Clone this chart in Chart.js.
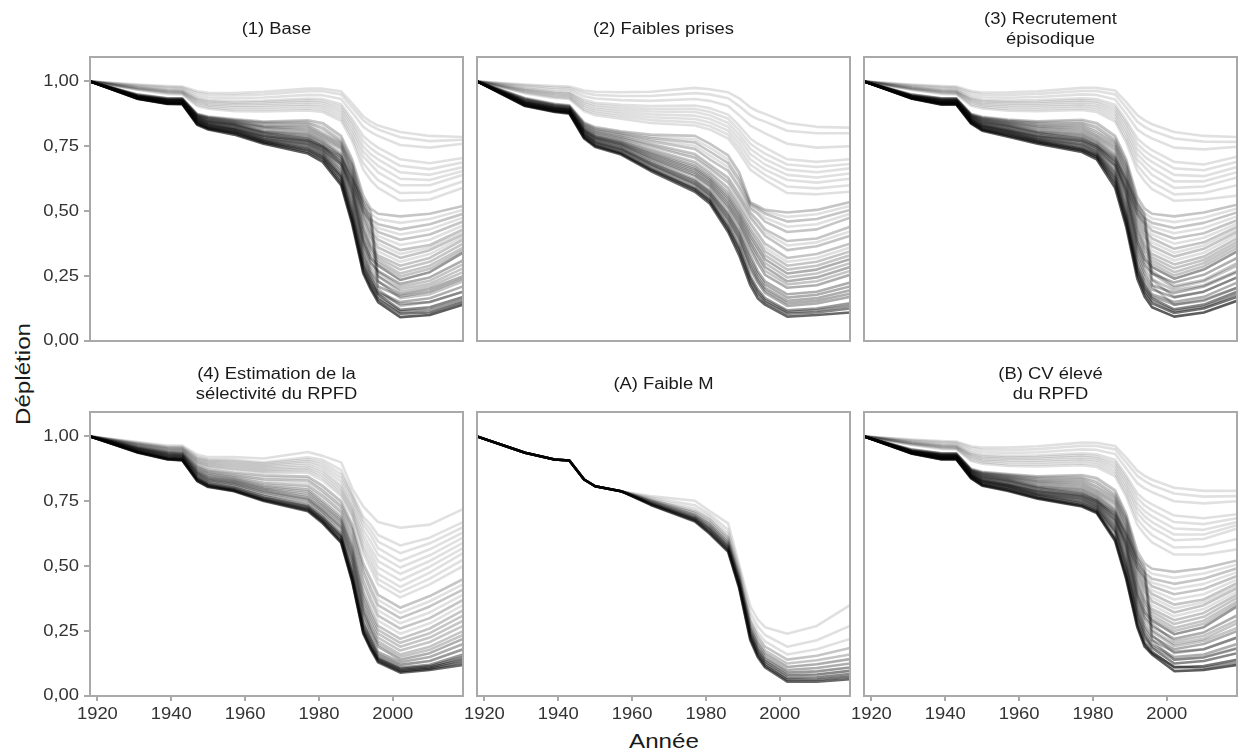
<!DOCTYPE html>
<html><head><meta charset="utf-8">
<script src="https://cdn.jsdelivr.net/npm/chart.js@4.4.0/dist/chart.umd.min.js"></script>
<style>
html,body{margin:0;padding:0;background:#fff;}
body{width:1239px;height:755px;position:relative;overflow:hidden;font-family:"Liberation Sans",Arial,sans-serif;}
canvas{position:absolute;}
.axt{position:absolute;color:#1a1a1a;font-size:21px;line-height:21px;white-space:nowrap;}
</style></head><body>
<div class="axt" id="xt" style="left:663.5px;top:730px;transform:translateX(-50%) scaleX(1.15);">Année</div>
<div class="axt" id="yt" style="left:22px;top:374px;transform:translate(-50%,-50%) rotate(-90deg) scaleX(1.15);">Déplétion</div>
<script>
// ---------------- DATA ----------------
const years = [1918, 1931, 1939, 1943, 1947, 1950, 1957, 1965, 1977, 1981, 1986, 1989, 1992, 1994, 1996, 2002, 2010, 2019];
const xTickValues = [1920, 1940, 1960, 1980, 2000];
const yTickValues = [0, 0.25, 0.5, 0.75, 1];
const panelTitles = [["(1) Base"], ["(2) Faibles prises"], ["(3) Recrutement", "épisodique"],
  ["(4) Estimation de la", "sélectivité du RPFD"], ["(A) Faible M"], ["(B) CV élevé", "du RPFD"]];

// (1) Base — representative runs, depletion at each year in `years`
const runsBase = [
 [1,.988,.982,.980,.962,.956,.955,.960,.972,.972,.962,.915,.865,.845,.830,.805,.790,.786],
 [1,.985,.978,.976,.955,.948,.946,.950,.962,.962,.950,.900,.850,.830,.815,.785,.770,.775],
 [1,.982,.973,.971,.946,.938,.935,.938,.948,.947,.932,.880,.825,.805,.790,.755,.745,.760],
 [1,.978,.968,.966,.937,.928,.924,.926,.934,.932,.912,.855,.790,.765,.745,.700,.685,.705],
 [1,.976,.965,.963,.932,.923,.918,.920,.927,.924,.902,.842,.770,.742,.722,.675,.662,.688],
 [1,.975,.963,.961,.928,.918,.913,.914,.920,.917,.892,.830,.750,.720,.700,.650,.640,.670],
 [1,.973,.960,.958,.923,.912,.906,.907,.912,.908,.881,.815,.730,.700,.675,.625,.620,.655],
 [1,.971,.958,.956,.918,.907,.900,.900,.905,.900,.870,.800,.710,.680,.650,.600,.600,.640],
 [1,.969,.955,.953,.911,.901,.892,.892,.896,.891,.859,.785,.685,.650,.620,.570,.572,.615],
 [1,.967,.952,.950,.905,.895,.885,.884,.888,.882,.848,.770,.660,.620,.590,.540,.545,.590],
 [1,.932,.913,.912,.833,.815,.795,.760,.722,.690,.600,.450,.260,.200,.150,.092,.100,.140],
 [1,.933,.914,.913,.836,.818,.800,.765,.730,.700,.610,.460,.270,.210,.160,.105,.110,.150],
 [1,.938,.920,.920,.848,.832,.815,.785,.760,.735,.680,.600,.500,.460,.200,.135,.150,.190],
 [1,.934,.916,.915,.840,.822,.805,.770,.740,.710,.630,.480,.290,.230,.180,.120,.130,.170],
 [1,.936,.918,.917,.844,.826,.810,.775,.750,.720,.640,.500,.310,.250,.190,.150,.165,.210],
 [1,.939,.922,.922,.852,.836,.820,.790,.770,.745,.700,.620,.520,.480,.230,.165,.180,.230],
 [1,.937,.920,.919,.848,.830,.815,.780,.760,.730,.660,.530,.340,.270,.230,.180,.200,.250],
 [1,.940,.924,.924,.856,.840,.825,.795,.775,.750,.710,.630,.540,.500,.250,.200,.220,.280],
 [1,.938,.922,.921,.852,.835,.820,.790,.770,.740,.680,.560,.370,.300,.270,.220,.245,.310],
 [1,.941,.925,.925,.858,.843,.830,.800,.780,.750,.690,.580,.390,.320,.290,.235,.265,.340],
 [1,.942,.927,.927,.861,.846,.833,.805,.790,.760,.710,.600,.420,.350,.310,.260,.290,.360],
 [1,.943,.928,.928,.864,.850,.837,.810,.800,.770,.720,.620,.440,.370,.330,.290,.320,.390],
 [1,.944,.929,.929,.866,.853,.840,.820,.810,.780,.740,.640,.470,.400,.360,.320,.350,.410],
 [1,.945,.930,.930,.868,.856,.843,.825,.820,.790,.750,.650,.490,.420,.390,.350,.370,.430],
 [1,.946,.932,.932,.870,.859,.847,.830,.830,.800,.760,.670,.510,.450,.420,.390,.410,.460],
 [1,.948,.934,.934,.872,.862,.850,.840,.840,.820,.770,.680,.530,.470,.450,.430,.450,.490],
 [1,.950,.935,.935,.875,.865,.855,.845,.850,.840,.790,.700,.560,.510,.490,.480,.490,.520],
 [1,.933,.915,.914,.838,.820,.802,.767,.735,.705,.620,.470,.280,.220,.170,.113,.120,.160],
 [1,.935,.917,.916,.842,.824,.808,.772,.745,.715,.635,.490,.300,.240,.185,.142,.150,.190],
 [1,.936,.919,.918,.846,.828,.812,.778,.755,.725,.650,.515,.325,.260,.210,.172,.190,.240],
 [1,.938,.921,.920,.850,.833,.817,.785,.765,.735,.670,.545,.355,.285,.250,.190,.210,.265],
 [1,.939,.923,.922,.854,.838,.822,.792,.772,.745,.685,.570,.380,.310,.265,.210,.232,.295],
 [1,.941,.926,.926,.859,.845,.831,.802,.785,.755,.700,.590,.405,.335,.300,.248,.278,.350],
 [1,.942,.927,.927,.862,.848,.835,.807,.795,.765,.715,.610,.430,.360,.320,.275,.305,.375],
 [1,.943,.928,.928,.865,.851,.838,.815,.805,.775,.730,.630,.455,.385,.345,.305,.335,.400],
 [1,.944,.929,.929,.867,.854,.841,.822,.815,.785,.745,.645,.480,.410,.375,.335,.360,.420],
 [1,.945,.931,.931,.869,.857,.845,.827,.825,.795,.755,.660,.500,.435,.405,.370,.390,.445],
 [1,.947,.933,.933,.871,.860,.848,.835,.835,.810,.765,.675,.520,.460,.435,.410,.430,.475],
 [1,.949,.935,.935,.873,.863,.852,.842,.845,.830,.780,.690,.545,.490,.470,.455,.470,.505]
];
const weightsBase = [1,1,1,1,1,1,1,1,1,1, 8,6,2,5,3,2,3,2,3,4,2,2,2,2,2,2,2, 4,3,3,2,2,2,2,1,1,1,1,1];

// (2) Faibles prises
const runsLowCatch = [
 [1,.988,.982,.980,.965,.960,.958,.960,.975,.970,.958,.935,.900,.885,.875,.840,.825,.822],
 [1,.984,.976,.974,.955,.948,.944,.944,.955,.950,.935,.905,.870,.855,.845,.810,.800,.800],
 [1,.979,.969,.967,.943,.934,.928,.925,.932,.925,.905,.870,.830,.815,.800,.760,.745,.750],
 [1,.973,.961,.958,.930,.918,.910,.905,.907,.897,.872,.830,.780,.760,.745,.700,.690,.700],
 [1,.970,.957,.954,.922,.910,.901,.894,.894,.883,.856,.812,.760,.740,.722,.680,.670,.682],
 [1,.967,.953,.950,.915,.902,.892,.884,.882,.870,.840,.795,.740,.720,.700,.660,.650,.665],
 [1,.964,.949,.945,.907,.894,.883,.873,.868,.856,.825,.778,.720,.700,.680,.640,.630,.645],
 [1,.961,.945,.941,.900,.886,.874,.862,.855,.842,.810,.760,.700,.680,.660,.620,.610,.625],
 [1,.957,.940,.936,.892,.878,.865,.851,.842,.828,.795,.742,.680,.660,.640,.595,.588,.600],
 [1,.954,.936,.932,.885,.870,.856,.840,.830,.815,.780,.725,.660,.640,.620,.570,.565,.575],
 [1,.905,.882,.876,.780,.747,.718,.655,.575,.530,.420,.330,.215,.165,.140,.094,.100,.110],
 [1,.906,.884,.878,.783,.751,.722,.660,.582,.538,.430,.345,.230,.180,.150,.105,.110,.125],
 [1,.908,.886,.880,.787,.756,.727,.667,.590,.547,.445,.365,.250,.200,.165,.118,.125,.145],
 [1,.910,.888,.882,.791,.761,.733,.675,.600,.557,.460,.385,.275,.225,.185,.135,.145,.170],
 [1,.912,.890,.884,.795,.766,.739,.683,.610,.568,.478,.405,.300,.245,.205,.155,.165,.195],
 [1,.914,.892,.886,.799,.771,.745,.692,.622,.580,.495,.425,.330,.270,.230,.180,.190,.225],
 [1,.916,.894,.888,.803,.776,.751,.700,.635,.594,.512,.445,.355,.300,.255,.205,.215,.255],
 [1,.918,.896,.890,.807,.781,.757,.710,.648,.608,.530,.465,.380,.330,.285,.230,.245,.285],
 [1,.920,.898,.892,.811,.786,.763,.720,.662,.622,.550,.485,.405,.360,.315,.260,.275,.315],
 [1,.922,.900,.894,.815,.791,.769,.730,.676,.636,.570,.505,.430,.390,.345,.290,.305,.345],
 [1,.924,.902,.896,.819,.796,.775,.740,.690,.650,.590,.525,.455,.415,.375,.320,.335,.375],
 [1,.926,.904,.898,.823,.801,.781,.750,.705,.665,.610,.545,.475,.440,.405,.350,.365,.405],
 [1,.928,.906,.900,.827,.806,.787,.760,.720,.680,.630,.565,.495,.465,.430,.385,.395,.440],
 [1,.930,.908,.902,.831,.811,.793,.770,.740,.700,.655,.590,.510,.490,.460,.420,.430,.475],
 [1,.933,.911,.905,.836,.817,.800,.782,.765,.730,.685,.620,.525,.510,.490,.460,.470,.505],
 [1,.936,.914,.908,.842,.824,.808,.795,.790,.760,.715,.650,.535,.520,.505,.495,.505,.535],
 [1,.907,.885,.879,.785,.753,.724,.663,.586,.542,.437,.355,.240,.190,.157,.112,.118,.135],
 [1,.911,.889,.883,.793,.763,.736,.679,.605,.562,.469,.395,.288,.235,.195,.145,.155,.182],
 [1,.913,.891,.885,.797,.768,.742,.687,.616,.574,.486,.415,.315,.258,.218,.167,.178,.210],
 [1,.917,.895,.889,.805,.778,.754,.705,.641,.601,.521,.455,.368,.315,.270,.218,.230,.270],
 [1,.919,.897,.891,.809,.783,.760,.715,.655,.615,.540,.475,.392,.345,.300,.245,.260,.300],
 [1,.921,.899,.893,.813,.788,.766,.725,.669,.629,.560,.495,.418,.375,.330,.275,.290,.330],
 [1,.923,.901,.895,.817,.793,.772,.735,.683,.643,.580,.515,.442,.402,.360,.305,.320,.360],
 [1,.927,.905,.899,.825,.803,.784,.755,.712,.672,.620,.555,.485,.452,.418,.368,.380,.422],
 [1,.931,.909,.903,.833,.814,.796,.776,.752,.715,.670,.605,.518,.500,.475,.440,.450,.490],
 [1,.934,.912,.906,.839,.820,.804,.788,.777,.745,.700,.635,.530,.515,.498,.478,.488,.520]
];
const weightsLowCatch = [1,1,1,1,1,1,1,1,1,1, 7,5,4,3,3,3,3,3,3,2,2,2,2,2,2,2, 4,3,3,2,2,2,1,1,1,1];

// (3) Recrutement épisodique
const runsEpisodic = [
 [1,.988,.982,.980,.963,.957,.958,.962,.975,.975,.965,.920,.870,.850,.835,.805,.790,.786],
 [1,.985,.978,.976,.956,.949,.948,.952,.963,.963,.950,.900,.845,.825,.810,.780,.768,.767],
 [1,.982,.973,.971,.947,.939,.937,.940,.950,.948,.930,.875,.815,.795,.780,.745,.738,.748],
 [1,.978,.968,.966,.938,.929,.926,.928,.935,.932,.910,.850,.780,.755,.735,.690,.680,.710],
 [1,.976,.965,.963,.933,.924,.920,.921,.928,.924,.900,.838,.760,.732,.712,.665,.658,.690],
 [1,.975,.963,.961,.929,.919,.915,.915,.921,.917,.890,.825,.740,.710,.690,.640,.635,.670],
 [1,.973,.960,.958,.924,.913,.908,.908,.913,.908,.879,.810,.720,.690,.665,.615,.615,.650],
 [1,.971,.958,.956,.919,.908,.902,.901,.906,.900,.868,.795,.700,.670,.640,.590,.595,.630],
 [1,.969,.955,.953,.912,.902,.894,.893,.898,.891,.856,.780,.678,.642,.612,.565,.570,.600],
 [1,.967,.952,.950,.906,.896,.887,.885,.890,.882,.845,.765,.655,.615,.585,.540,.545,.560],
 [1,.933,.910,.910,.837,.810,.787,.760,.728,.700,.590,.440,.240,.170,.130,.094,.110,.155],
 [1,.934,.912,.912,.840,.814,.792,.765,.734,.708,.605,.455,.255,.185,.145,.108,.125,.170],
 [1,.938,.918,.918,.850,.828,.808,.783,.758,.735,.675,.590,.490,.450,.210,.140,.160,.205],
 [1,.935,.914,.914,.843,.818,.797,.770,.740,.715,.625,.475,.275,.205,.165,.122,.140,.190],
 [1,.936,.916,.916,.846,.822,.802,.775,.748,.722,.640,.495,.295,.225,.180,.150,.170,.225],
 [1,.939,.920,.920,.853,.832,.813,.788,.768,.745,.695,.615,.510,.470,.235,.170,.190,.245],
 [1,.937,.918,.918,.849,.826,.807,.780,.758,.730,.655,.525,.330,.260,.215,.185,.210,.265],
 [1,.940,.922,.922,.856,.836,.818,.793,.775,.752,.705,.625,.530,.490,.260,.205,.230,.290],
 [1,.938,.920,.920,.852,.831,.813,.790,.770,.742,.675,.555,.360,.290,.260,.225,.255,.320],
 [1,.941,.923,.923,.858,.840,.823,.800,.780,.752,.688,.575,.385,.315,.285,.240,.275,.345],
 [1,.942,.925,.925,.861,.844,.828,.805,.790,.762,.705,.595,.415,.345,.310,.265,.300,.370],
 [1,.943,.927,.927,.864,.848,.832,.812,.800,.772,.718,.615,.440,.370,.335,.295,.325,.395],
 [1,.944,.928,.928,.866,.851,.836,.820,.810,.782,.735,.635,.465,.400,.365,.325,.355,.420],
 [1,.945,.930,.930,.868,.854,.840,.826,.820,.792,.748,.650,.490,.425,.395,.355,.380,.440],
 [1,.946,.932,.932,.870,.857,.844,.832,.830,.805,.760,.668,.510,.455,.425,.395,.415,.465],
 [1,.948,.934,.934,.872,.860,.848,.840,.840,.822,.772,.682,.530,.475,.455,.435,.455,.495],
 [1,.950,.935,.935,.875,.864,.853,.846,.852,.840,.790,.700,.555,.510,.490,.480,.495,.525],
 [1,.934,.913,.913,.840,.814,.793,.767,.737,.711,.613,.463,.265,.195,.155,.115,.132,.180],
 [1,.936,.915,.915,.845,.820,.800,.772,.744,.719,.632,.485,.285,.215,.172,.140,.155,.205],
 [1,.937,.917,.917,.848,.824,.805,.778,.753,.726,.648,.510,.312,.242,.198,.168,.190,.245],
 [1,.938,.919,.919,.851,.829,.810,.785,.764,.736,.665,.540,.345,.275,.238,.195,.215,.270],
 [1,.939,.921,.921,.854,.834,.816,.792,.772,.746,.680,.565,.372,.302,.270,.212,.235,.300],
 [1,.941,.924,.924,.859,.842,.826,.802,.785,.757,.696,.585,.400,.330,.298,.252,.288,.358],
 [1,.942,.926,.926,.862,.846,.830,.808,.795,.767,.712,.605,.428,.358,.322,.280,.312,.382],
 [1,.943,.927,.927,.865,.849,.834,.816,.805,.777,.726,.625,.452,.385,.350,.310,.340,.408],
 [1,.944,.929,.929,.867,.852,.838,.823,.815,.787,.742,.642,.478,.412,.380,.340,.368,.430],
 [1,.945,.931,.931,.869,.855,.842,.829,.825,.798,.754,.659,.500,.440,.410,.375,.398,.452],
 [1,.947,.933,.933,.871,.858,.846,.836,.835,.813,.766,.675,.520,.465,.440,.415,.435,.480],
 [1,.949,.935,.935,.873,.862,.850,.843,.846,.831,.781,.691,.542,.492,.472,.458,.475,.510]
];
const weightsEpisodic = [1,1,1,1,1,1,1,1,1,1, 8,6,2,5,3,2,3,2,3,4,2,2,2,2,2,2,2, 4,3,3,2,2,2,2,1,1,1,1,1];

// (4) Estimation de la sélectivité du RPFD
const runsSelectivity = [
 [1,.937,.911,.907,.828,.805,.789,.751,.712,.665,.590,.440,.240,.180,.130,.090,.100,.120],
 [1,.938,.912,.908,.830,.807,.791,.754,.716,.670,.595,.445,.245,.185,.135,.095,.105,.130],
 [1,.939,.913,.910,.833,.810,.793,.757,.720,.675,.600,.450,.250,.190,.140,.100,.110,.140],
 [1,.940,.915,.912,.836,.813,.796,.761,.725,.680,.610,.460,.260,.200,.145,.105,.115,.150],
 [1,.941,.917,.914,.839,.816,.800,.765,.730,.685,.615,.470,.270,.210,.150,.110,.120,.160],
 [1,.943,.919,.916,.843,.820,.804,.770,.735,.690,.620,.480,.280,.220,.160,.120,.135,.180],
 [1,.945,.921,.918,.847,.825,.810,.777,.745,.700,.630,.500,.300,.230,.170,.130,.150,.200],
 [1,.947,.923,.920,.852,.830,.816,.785,.755,.710,.645,.520,.320,.250,.190,.140,.165,.220],
 [1,.949,.926,.923,.857,.836,.822,.793,.765,.720,.660,.540,.340,.270,.210,.160,.190,.250],
 [1,.951,.929,.926,.862,.842,.828,.800,.780,.735,.675,.560,.370,.300,.240,.190,.225,.290],
 [1,.953,.932,.929,.868,.850,.835,.810,.795,.750,.690,.580,.400,.330,.270,.220,.260,.330],
 [1,.955,.935,.932,.874,.857,.842,.820,.810,.770,.710,.610,.440,.370,.310,.260,.300,.370],
 [1,.957,.938,.935,.880,.864,.850,.835,.830,.790,.730,.640,.480,.410,.350,.300,.345,.410],
 [1,.960,.941,.939,.887,.872,.860,.850,.845,.810,.750,.660,.510,.450,.390,.340,.385,.450],
 [1,.963,.944,.943,.894,.880,.870,.860,.860,.830,.770,.690,.550,.490,.430,.380,.430,.500],
 [1,.966,.948,.947,.900,.888,.880,.870,.875,.850,.790,.710,.580,.530,.470,.420,.475,.550],
 [1,.969,.952,.951,.907,.896,.890,.880,.890,.870,.810,.730,.620,.570,.520,.470,.520,.590],
 [1,.972,.956,.955,.914,.904,.900,.890,.905,.890,.840,.760,.660,.620,.570,.520,.565,.630],
 [1,.975,.960,.960,.922,.912,.910,.900,.920,.910,.870,.780,.690,.660,.620,.580,.610,.670],
 [1,.978,.965,.965,.930,.920,.920,.915,.940,.925,.900,.800,.730,.700,.670,.648,.660,.720],
 [1,.948,.925,.922,.855,.833,.819,.789,.760,.715,.652,.530,.330,.260,.200,.150,.178,.235],
 [1,.950,.928,.925,.860,.839,.825,.797,.772,.728,.668,.550,.355,.285,.225,.175,.208,.270],
 [1,.952,.931,.928,.865,.846,.832,.805,.788,.742,.682,.570,.385,.315,.255,.205,.242,.310],
 [1,.954,.934,.931,.871,.854,.839,.815,.802,.760,.700,.595,.420,.350,.290,.240,.280,.350],
 [1,.956,.937,.934,.877,.861,.846,.828,.820,.780,.720,.625,.460,.390,.330,.280,.322,.390],
 [1,.959,.940,.937,.884,.868,.855,.842,.838,.800,.740,.650,.495,.430,.370,.320,.365,.430],
 [1,.964,.946,.945,.897,.884,.875,.865,.868,.840,.780,.700,.565,.510,.450,.400,.452,.525],
 [1,.967,.950,.949,.903,.892,.885,.875,.882,.860,.800,.720,.600,.550,.495,.445,.498,.570],
 [1,.970,.954,.953,.910,.900,.895,.885,.898,.880,.825,.745,.640,.595,.545,.495,.542,.610],
 [1,.973,.958,.958,.918,.908,.905,.895,.912,.900,.855,.770,.675,.640,.595,.550,.588,.650]
];
const weightsSelectivity = [7,6,6,5,4,4,3,3,2,2,2,2,2,2,1,1,1,1,1,1, 2,2,2,1,1,1, 1,1,1,1];

// (A) Faible M
const runsLowM = [
 [1,.937,.911,.907,.834,.808,.789,.736,.672,.625,.555,.415,.215,.150,.110,.055,.055,.065],
 [1,.937,.911,.907,.834,.808,.789,.738,.676,.630,.560,.420,.222,.157,.117,.062,.063,.075],
 [1,.937,.911,.907,.834,.808,.789,.740,.680,.636,.566,.425,.230,.165,.125,.070,.072,.085],
 [1,.937,.911,.907,.834,.808,.789,.742,.684,.642,.572,.432,.238,.173,.133,.080,.083,.097],
 [1,.937,.911,.907,.834,.808,.789,.744,.688,.648,.578,.438,.246,.182,.142,.090,.095,.110],
 [1,.937,.911,.907,.834,.808,.789,.747,.693,.655,.585,.445,.255,.192,.152,.100,.108,.125],
 [1,.937,.911,.907,.834,.808,.789,.750,.698,.662,.593,.452,.265,.203,.163,.112,.122,.142],
 [1,.937,.911,.907,.834,.808,.789,.753,.705,.670,.602,.460,.275,.215,.175,.125,.138,.160],
 [1,.937,.911,.907,.834,.808,.789,.756,.712,.680,.612,.470,.288,.230,.190,.140,.155,.185],
 [1,.937,.911,.907,.834,.808,.789,.760,.722,.690,.625,.480,.300,.245,.210,.160,.180,.220],
 [1,.937,.911,.907,.834,.808,.789,.765,.735,.700,.640,.492,.320,.268,.235,.190,.215,.270],
 [1,.937,.911,.907,.834,.808,.789,.770,.752,.712,.665,.505,.345,.295,.265,.240,.270,.350]
];
const weightsLowM = [7,6,5,5,4,3,3,2,2,1,1,1];

// (B) CV élevé du RPFD
const runsHighCV = [
 [1,.988,.982,.980,.962,.957,.957,.962,.976,.975,.963,.918,.868,.848,.833,.802,.790,.790],
 [1,.985,.978,.976,.955,.949,.947,.951,.964,.963,.950,.900,.848,.828,.812,.780,.768,.770],
 [1,.982,.973,.971,.946,.939,.936,.939,.950,.948,.932,.877,.820,.800,.785,.750,.742,.750],
 [1,.978,.968,.966,.937,.929,.925,.927,.935,.931,.910,.850,.780,.755,.738,.695,.685,.700],
 [1,.976,.965,.963,.932,.923,.919,.920,.928,.923,.900,.838,.762,.734,.715,.670,.662,.685],
 [1,.975,.963,.961,.928,.918,.914,.914,.921,.916,.890,.825,.742,.712,.692,.645,.640,.670],
 [1,.973,.960,.958,.923,.912,.907,.907,.913,.908,.879,.811,.724,.692,.670,.622,.622,.658],
 [1,.971,.958,.956,.918,.907,.901,.900,.906,.900,.868,.797,.705,.672,.648,.600,.605,.645],
 [1,.969,.955,.953,.911,.901,.893,.892,.897,.891,.857,.782,.682,.647,.620,.572,.575,.605],
 [1,.967,.952,.950,.905,.895,.886,.884,.889,.882,.846,.768,.660,.622,.592,.545,.545,.565],
 [1,.933,.911,.911,.838,.810,.790,.760,.730,.705,.597,.450,.265,.190,.160,.096,.100,.120],
 [1,.934,.913,.913,.841,.814,.795,.765,.736,.712,.610,.465,.280,.205,.170,.110,.115,.140],
 [1,.938,.919,.919,.850,.828,.810,.783,.760,.738,.675,.595,.495,.455,.215,.140,.150,.185],
 [1,.935,.915,.915,.844,.818,.800,.770,.742,.718,.630,.485,.300,.225,.185,.125,.135,.165],
 [1,.936,.917,.917,.847,.822,.805,.775,.750,.726,.645,.505,.320,.245,.200,.150,.160,.200],
 [1,.939,.921,.921,.853,.832,.815,.788,.768,.746,.697,.618,.515,.475,.235,.165,.180,.225],
 [1,.937,.919,.919,.849,.826,.810,.780,.760,.733,.660,.530,.345,.270,.230,.180,.200,.250],
 [1,.940,.923,.923,.856,.836,.820,.793,.775,.752,.706,.628,.535,.495,.255,.200,.220,.280],
 [1,.938,.921,.921,.852,.831,.815,.790,.770,.743,.678,.560,.370,.300,.268,.220,.245,.310],
 [1,.941,.924,.924,.858,.840,.825,.800,.780,.753,.690,.580,.392,.322,.290,.238,.265,.345],
 [1,.942,.926,.926,.861,.844,.830,.805,.790,.763,.708,.600,.420,.350,.312,.262,.290,.365],
 [1,.943,.927,.927,.864,.848,.834,.812,.800,.773,.720,.620,.445,.372,.335,.292,.320,.390],
 [1,.944,.928,.928,.866,.851,.838,.820,.810,.783,.738,.640,.470,.402,.365,.322,.350,.415],
 [1,.945,.930,.930,.868,.854,.842,.826,.820,.793,.750,.655,.492,.425,.393,.352,.372,.435],
 [1,.946,.932,.932,.870,.857,.846,.832,.830,.806,.762,.672,.512,.452,.423,.392,.412,.462],
 [1,.948,.934,.934,.872,.860,.850,.840,.840,.822,.774,.685,.532,.475,.452,.432,.452,.492],
 [1,.950,.935,.935,.875,.864,.855,.846,.851,.840,.792,.702,.558,.510,.490,.478,.492,.522],
 [1,.934,.912,.912,.840,.812,.793,.763,.733,.709,.604,.458,.272,.198,.165,.113,.108,.130],
 [1,.936,.916,.916,.846,.820,.803,.773,.746,.722,.638,.495,.310,.235,.192,.140,.148,.182],
 [1,.937,.918,.918,.849,.825,.808,.778,.755,.730,.652,.518,.332,.258,.215,.170,.180,.225],
 [1,.938,.920,.920,.851,.829,.813,.785,.765,.739,.668,.545,.358,.285,.248,.192,.212,.262],
 [1,.939,.922,.922,.854,.834,.818,.792,.772,.748,.683,.570,.382,.310,.278,.210,.232,.292],
 [1,.941,.925,.925,.859,.842,.828,.802,.785,.758,.699,.590,.406,.336,.300,.250,.278,.355],
 [1,.942,.926,.926,.862,.846,.832,.808,.795,.768,.714,.610,.432,.361,.324,.277,.305,.378],
 [1,.943,.927,.927,.865,.849,.836,.816,.805,.778,.729,.630,.457,.387,.350,.307,.335,.402],
 [1,.944,.929,.929,.867,.852,.840,.823,.815,.788,.744,.647,.481,.413,.379,.337,.361,.425],
 [1,.945,.931,.931,.869,.855,.844,.829,.825,.800,.756,.663,.502,.438,.408,.372,.392,.448],
 [1,.947,.933,.933,.871,.858,.848,.836,.835,.814,.768,.678,.522,.463,.437,.412,.432,.477],
 [1,.949,.935,.935,.873,.862,.852,.843,.845,.831,.783,.693,.545,.492,.471,.455,.472,.507]
];
const weightsHighCV = [1,1,1,1,1,1,1,1,1,1, 8,6,2,5,3,2,3,2,3,4,2,2,2,2,2,2,2, 4,3,3,2,2,2,2,1,1,1,1,1];

// ---------------- LAYOUT / STYLE ----------------
const TEXT_STRETCH = 1.15;
const FONT = '"Liberation Sans", Arial, sans-serif';
const UNIT_ALPHA = 0.12;
const PANEL_W = 373, PANEL_H = 284;
const PAD_L = 90, PAD_T = 57, PAD_B = 58, PAD_R = 2;
const panelOrigins = [[90,57],[477,57],[864,57],[90,412],[477,412],[864,412]];
const panelRuns = [runsBase, runsLowCatch, runsEpisodic, runsSelectivity, runsLowM, runsHighCV];
const panelWeights = [weightsBase, weightsLowCatch, weightsEpisodic, weightsSelectivity, weightsLowM, weightsHighCV];

// horizontally widen drawn text (reference typeface is wider than Liberation Sans)
const _fillText = CanvasRenderingContext2D.prototype.fillText;
CanvasRenderingContext2D.prototype.fillText = function(t, x, y, mw) {
  this.save();
  this.translate(x, y);
  this.scale(TEXT_STRETCH, 1);
  if (mw === undefined || mw === null) _fillText.call(this, t, 0, 0);
  else _fillText.call(this, t, 0, 0, mw / TEXT_STRETCH);
  this.restore();
};

Chart.defaults.font.family = FONT;

const framePlugin = {
  id: 'frame',
  afterDatasetsDraw(chart) {
    const {ctx, chartArea: a} = chart;
    ctx.save();
    ctx.strokeStyle = '#a9a9a9';
    ctx.lineWidth = 2;
    ctx.strokeRect(a.left, a.top, a.right - a.left, a.bottom - a.top);
    ctx.restore();
  }
};
const titlePlugin = {
  id: 'panelTitle',
  afterDraw(chart, args, opts) {
    const {ctx, chartArea: a} = chart;
    const lines = opts.lines || [];
    ctx.save();
    ctx.font = '16px ' + FONT;
    ctx.fillStyle = '#1a1a1a';
    ctx.textAlign = 'center';
    ctx.textBaseline = 'alphabetic';
    const cx = (a.left + a.right) / 2;
    const bases = lines.length === 1 ? [a.top - 23] : [a.top - 33, a.top - 13.5];
    lines.forEach((t, i) => ctx.fillText(t, cx, bases[i]));
    ctx.restore();
  }
};

panelOrigins.forEach(([px, py], p) => {
  const showY = (p === 0 || p === 3);
  const showX = (p >= 3);
  const cv = document.createElement('canvas');
  const W = PAD_L + PANEL_W + PAD_R, H = PAD_T + PANEL_H + PAD_B;
  cv.width = W; cv.height = H;
  cv.style.left = (px - PAD_L) + 'px';
  cv.style.top = (py - PAD_T) + 'px';
  cv.style.width = W + 'px'; cv.style.height = H + 'px';
  document.body.appendChild(cv);

  const datasets = panelRuns[p].map((run, i) => ({
    data: years.map((yr, k) => ({x: yr, y: run[k]})),
    borderColor: `rgba(0,0,0,${(1 - Math.pow(1 - UNIT_ALPHA, panelWeights[p][i])).toFixed(3)})`,
    borderWidth: 2.6,
    borderJoinStyle: 'round',
    borderCapStyle: 'round',
    pointRadius: 0,
    tension: 0,
    fill: false
  }));

  new Chart(cv, {
    type: 'line',
    data: {datasets},
    options: {
      responsive: false,
      animation: false,
      devicePixelRatio: 1,
      events: [],
      layout: {padding: {left: showY ? 0 : PAD_L, top: PAD_T, right: PAD_R, bottom: 0}},
      plugins: {legend: {display: false}, tooltip: {enabled: false}, panelTitle: {lines: panelTitles[p]}},
      scales: {
        x: {
          type: 'linear', min: 1918, max: 2019,
          afterBuildTicks: s => { s.ticks = xTickValues.map(v => ({value: v})); },
          afterFit: s => { s.height = PAD_B; s.paddingLeft = 0; s.paddingRight = 0; },
          border: {display: false},
          grid: {display: showX, drawOnChartArea: false, drawTicks: true, tickLength: 5, color: '#a9a9a9', lineWidth: 2},
          ticks: {display: showX, autoSkip: false, maxRotation: 0, padding: 4, color: '#333333',
                  font: {size: 16, family: FONT}, callback: v => String(v)}
        },
        y: {
          type: 'linear', min: 0, max: 1.094,
          afterBuildTicks: s => { s.ticks = yTickValues.map(v => ({value: v})); },
          afterFit: s => { s.width = showY ? PAD_L : 0; s.paddingTop = 0; s.paddingBottom = 0; },
          border: {display: false},
          grid: {display: showY, drawOnChartArea: false, drawTicks: true, tickLength: 6, color: '#a9a9a9', lineWidth: 2},
          ticks: {display: showY, padding: 5, color: '#333333',
                  font: {size: 16, family: FONT}, callback: v => v.toFixed(2).replace('.', ',')}
        }
      }
    },
    plugins: [framePlugin, titlePlugin]
  });
});
</script>
</body></html>
